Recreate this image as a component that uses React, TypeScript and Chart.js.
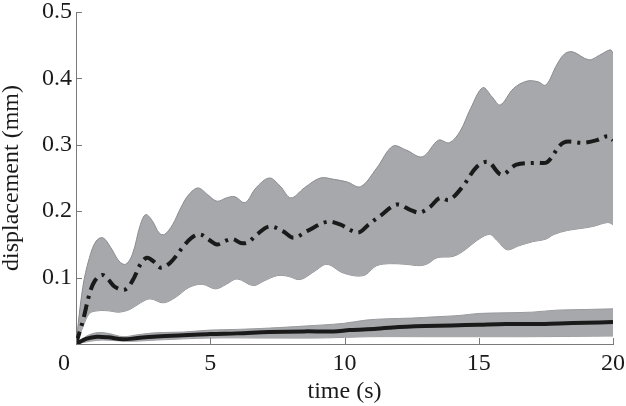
import React, { useEffect, useRef } from "react";
import { Chart, registerables } from "chart.js";

Chart.register(...registerables);

// Outer (dash-dot) band: upper edge
const bigUpperT = [0, 0.25, 0.5, 0.75, 1.0, 1.3, 1.6, 1.85, 2.1, 2.4, 2.6, 2.85, 3.1, 3.3, 3.6, 3.9, 4.2, 4.55, 4.9, 5.25, 5.6, 5.9, 6.3, 6.7, 7.2, 7.6, 8.0, 8.5, 9.1, 9.6, 10.1, 10.6, 11.2, 11.8, 12.3, 12.9, 13.5, 13.9, 14.3, 14.7, 15.15, 15.5, 15.8, 16.3, 16.8, 17.2, 17.5, 17.9, 18.2, 18.5, 19.1, 19.5, 19.9, 20];
const bigUpperV = [0, 0.085, 0.13, 0.155, 0.16, 0.145, 0.125, 0.12, 0.135, 0.18, 0.195, 0.185, 0.167, 0.165, 0.18, 0.205, 0.225, 0.235, 0.225, 0.215, 0.22, 0.222, 0.213, 0.235, 0.25, 0.238, 0.22, 0.235, 0.25, 0.248, 0.244, 0.237, 0.265, 0.298, 0.292, 0.282, 0.307, 0.303, 0.32, 0.355, 0.386, 0.372, 0.36, 0.385, 0.396, 0.395, 0.39, 0.42, 0.437, 0.44, 0.428, 0.435, 0.443, 0.438];

// Outer band: lower edge
const bigLowerT = [0, 0.25, 0.5, 0.8, 1.2, 1.6, 2.0, 2.4, 2.76, 3.25, 3.7, 4.2, 4.7, 5.2, 5.6, 6.0, 6.6, 7.0, 7.5, 7.9, 8.35, 8.9, 9.35, 9.95, 10.7, 11.2, 11.7, 12.3, 12.8, 13.1, 13.45, 14.05, 14.5, 14.9, 15.4, 15.7, 16.05, 16.5, 17.0, 17.5, 17.8, 18.3, 18.8, 19.25, 19.8, 20];
const bigLowerV = [0, 0.025, 0.046, 0.05, 0.05, 0.048, 0.052, 0.062, 0.068, 0.062, 0.07, 0.085, 0.09, 0.083, 0.09, 0.098, 0.088, 0.095, 0.103, 0.102, 0.097, 0.11, 0.12, 0.107, 0.103, 0.118, 0.121, 0.12, 0.118, 0.121, 0.13, 0.132, 0.142, 0.155, 0.165, 0.155, 0.142, 0.148, 0.154, 0.158, 0.165, 0.171, 0.174, 0.177, 0.183, 0.18];

// Dash-dot mean curve
const meanT = [0, 0.27, 0.5, 0.7, 0.97, 1.2, 1.45, 1.82, 2.1, 2.4, 2.64, 2.9, 3.15, 3.5, 4.0, 4.3, 4.62, 4.95, 5.25, 5.6, 5.85, 6.15, 6.4, 6.74, 7.2, 7.7, 8.1, 8.6, 9.35, 9.83, 10.5, 10.9, 11.3, 11.95, 12.45, 12.8, 13.2, 13.55, 13.9, 14.4, 14.93, 15.35, 15.85, 16.4, 17.17, 17.55, 18.15, 18.9, 19.4, 19.8, 20];
const meanV = [0, 0.037, 0.075, 0.095, 0.104, 0.097, 0.086, 0.082, 0.095, 0.12, 0.13, 0.124, 0.115, 0.122, 0.147, 0.16, 0.165, 0.157, 0.15, 0.156, 0.158, 0.152, 0.153, 0.165, 0.177, 0.17, 0.16, 0.17, 0.184, 0.18, 0.168, 0.18, 0.192, 0.21, 0.202, 0.198, 0.207, 0.22, 0.217, 0.237, 0.267, 0.274, 0.255, 0.27, 0.273, 0.274, 0.303, 0.303, 0.307, 0.313, 0.307];

// Inner (solid) band: upper edge
const smallUpperT = [0, 0.4, 0.78, 1.2, 1.75, 2.3, 3, 4, 5, 6, 7.2, 8.5, 9.95, 10.8, 11.6, 12.5, 13.4, 14.3, 15, 16, 17, 17.9, 19, 20];
const smallUpperV = [0, 0.012, 0.017, 0.016, 0.011, 0.014, 0.017, 0.018, 0.021, 0.022, 0.024, 0.027, 0.031, 0.036, 0.038, 0.039, 0.041, 0.043, 0.046, 0.047, 0.048, 0.051, 0.052, 0.053];

// Inner band: lower edge
const smallLowerT = [0, 0.5, 1, 2, 3, 5, 7, 9, 10, 11, 13, 15, 17, 20];
const smallLowerV = [0, 0.004, 0.006, 0.004, 0.006, 0.009, 0.009, 0.009, 0.01, 0.011, 0.011, 0.011, 0.011, 0.012];

// Solid mean curve
const solidT = [0, 0.4, 0.78, 1.2, 1.75, 2.3, 2.87, 4, 5, 6, 7.2, 8.5, 9.6, 10.2, 11.2, 11.8, 13, 14, 15, 16, 17, 18, 19, 20];
const solidV = [0, 0.008, 0.011, 0.01, 0.007, 0.009, 0.011, 0.013, 0.015, 0.016, 0.018, 0.019, 0.019, 0.021, 0.023, 0.025, 0.027, 0.028, 0.029, 0.03, 0.03, 0.031, 0.032, 0.033];

const xTicks = [0, 5, 10, 15, 20];
const yTicks = [0.1, 0.2, 0.3, 0.4, 0.5];

const xTitle = "time (s)";
const yTitle = "displacement (mm)";

const toPts = (t: number[], v: number[]) => t.map((x, i) => ({ x, y: v[i] }));

const FONT = "'Liberation Serif', 'Times New Roman', serif";
const BAND = "#a7a8ab";
const AXIS = "#7a7a7a";
const INK = "#1a1a1a";

const inwardTicks = {
  id: "inwardTicks",
  afterDraw(chart: any) {
    const { ctx, chartArea, scales } = chart;
    ctx.save();
    ctx.strokeStyle = AXIS;
    ctx.lineWidth = 1;
    ctx.beginPath();
    for (const v of yTicks) {
      const y = Math.round(scales.y.getPixelForValue(v)) + 0.5;
      ctx.moveTo(chartArea.left, y);
      ctx.lineTo(chartArea.left + 6, y);
    }
    for (const v of xTicks) {
      const x = Math.round(scales.x.getPixelForValue(v)) + 0.5;
      ctx.moveTo(x, chartArea.bottom);
      ctx.lineTo(x, chartArea.bottom - 6);
    }
    ctx.stroke();
    ctx.restore();
  },
};

export default function App() {
  const ref = useRef<HTMLCanvasElement | null>(null);
  useEffect(() => {
    if (!ref.current) return;
    const common = { pointRadius: 0, tension: 0.35, fill: false as any };
    const chart = new Chart(ref.current, {
      type: "line",
      data: {
        datasets: [
          { ...common, data: toPts(solidT, solidV), borderColor: INK, borderWidth: 4 },
          { ...common, data: toPts(meanT, meanV), borderColor: INK, borderWidth: 4, borderDash: [13, 6, 3, 6] },
          { ...common, data: toPts(smallUpperT, smallUpperV), borderColor: "#989a9d", borderWidth: 1, fill: "+1", backgroundColor: BAND },
          { ...common, data: toPts(smallLowerT, smallLowerV), borderColor: "#989a9d", borderWidth: 1 },
          { ...common, data: toPts(bigUpperT, bigUpperV), borderColor: "#8a8b8e", borderWidth: 1, fill: "+1", backgroundColor: BAND },
          { ...common, data: toPts(bigLowerT, bigLowerV), borderColor: "#8a8b8e", borderWidth: 1 },
        ],
      },
      options: {
        animation: false,
        responsive: false,
        layout: { padding: { top: 12, right: 13, left: 0, bottom: 0 } },
        plugins: { legend: { display: false }, tooltip: { enabled: false } },
        scales: {
          x: {
            type: "linear",
            min: 0,
            max: 20,
            afterFit: (s: any) => { s.height = 62; s.paddingLeft = 0; s.paddingRight = 0; },
            afterBuildTicks: (s: any) => { s.ticks = xTicks.map((v) => ({ value: v })); },
            grid: { display: false, drawTicks: false },
            border: { display: true, color: AXIS, width: 1 },
            ticks: {
              padding: 8,
              color: INK,
              font: { family: FONT, size: 24, lineHeight: 1 },
              maxRotation: 0,
              callback: (v: any) => (v === 0 ? "0\u2002\u2002" : String(v)),
            },
            title: { display: true, text: xTitle, color: INK, font: { family: FONT, size: 24, lineHeight: 1.2 }, padding: { top: 0, bottom: 0 } },
          },
          y: {
            type: "linear",
            min: 0,
            max: 0.5,
            afterFit: (s: any) => { s.width = 76; s.paddingTop = 0; s.paddingBottom = 0; },
            afterBuildTicks: (s: any) => { s.ticks = [0, ...yTicks].map((v) => ({ value: v })); },
            grid: { display: false, drawTicks: false },
            border: { display: true, color: AXIS, width: 1 },
            ticks: {
              padding: 4,
              color: INK,
              font: { family: FONT, size: 24, lineHeight: 1 },
              callback: (v: any) => (v === 0 ? "" : Number(v).toFixed(1)),
            },
            title: { display: true, text: yTitle, color: INK, font: { family: FONT, size: 24, lineHeight: 1 }, padding: { top: 0, bottom: 0 } },
          },
        },
      },
      plugins: [inwardTicks],
    });
    return () => chart.destroy();
  }, []);
  return (
    <div style={{ position: "fixed", left: 0, top: 0, width: 626, height: 406, background: "#fff" }}>
      <canvas ref={ref} width={626} height={406} style={{ width: 626, height: 406, display: "block" }} />
    </div>
  );
}
